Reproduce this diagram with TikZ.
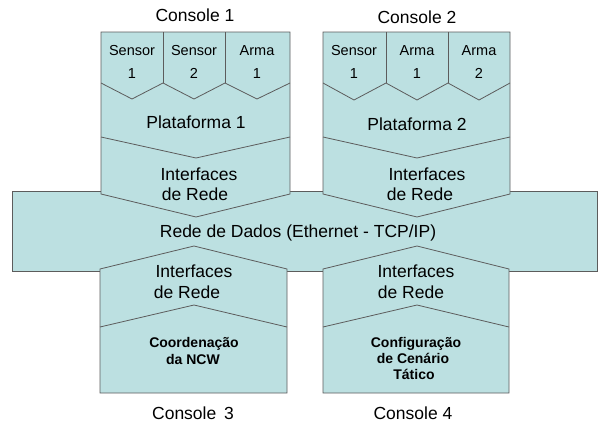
\documentclass[tikz,border=0pt]{standalone}
\usepackage{fontspec}
\setmainfont{Liberation Sans}
\begin{document}
\begin{tikzpicture}[x=1pt,y=-1pt,
  blk/.style={draw=linegray,fill=boxfill,line width=0.8pt,line join=miter},
  sep/.style={draw=linegray,line width=0.8pt},
  big/.style={font=\fontsize{17.5}{20}\selectfont,inner sep=0pt,anchor=base},
  small/.style={font=\fontsize{14.5}{17}\selectfont,inner sep=0pt,anchor=base},
  bold/.style={font=\fontsize{14}{16}\selectfont\bfseries,inner sep=0pt,anchor=base}]
\definecolor{boxfill}{HTML}{BCE0E1}
\definecolor{linegray}{HTML}{5C5C5C}
\useasboundingbox (0,0) rectangle (598,426);

% network backbone
\draw[blk] (12,191) rectangle (597,271);

% upper console 1
\draw[blk] (101,32) -- (290,32) -- (290,194) -- (196,217) -- (101,194) -- cycle;
\draw[sep] (163,32) -- (163,83) (225,32) -- (225,83);
\draw[sep] (101,83) -- (132,99) -- (163,83) -- (194,99) -- (225,83) -- (257,99) -- (290,83);
\draw[sep] (101,137) -- (196,158) -- (290,137);

% upper console 2
\draw[blk] (323,32) -- (510,32) -- (510,194) -- (417,217) -- (323,194) -- cycle;
\draw[sep] (386,32) -- (386,83) (448,32) -- (448,83);
\draw[sep] (323,83) -- (354,100) -- (386,83) -- (417,100) -- (448,83) -- (479,100) -- (510,83);
\draw[sep] (323,137) -- (417,158) -- (510,137);

% lower console 3
\draw[blk] (100,269) -- (194,246) -- (287,269) -- (287,393) -- (100,393) -- cycle;
\draw[sep] (100,327) -- (194,305) -- (287,327);

% lower console 4
\draw[blk] (323,269) -- (417,246) -- (509,269) -- (509,393) -- (323,393) -- cycle;
\draw[sep] (323,327) -- (417,305) -- (509,327);

% titles
\node[big] (c1) at (195,21) {Console 1};
\node[big] (c2) at (417,23) {Console 2};
\node[big] (c3) at (193,419) {Console\,\ 3};
\node[big] (c4) at (413,419) {Console\ 4};

% console 1 labels
\node[small] (s1a) at (132,55) {Sensor};
\node[small] (s1b) at (132,78) {1};
\node[small] (s2a) at (194,55) {Sensor};
\node[small] (s2b) at (194,78) {2};
\node[small] (a1a) at (257,55) {Arma};
\node[small] (a1b) at (257,78) {1};
\node[big] (p1) at (196,128) {Plataforma 1};
\node[big] (i1a) at (199,180) {Interfaces};
\node[big] (i1b) at (195,200) {de Rede};

% console 2 labels
\node[small] (t1a) at (354,55) {Sensor};
\node[small] (t1b) at (354,78) {1};
\node[small] (b1a) at (417,55) {Arma};
\node[small] (b1b) at (417,78) {1};
\node[small] (b2a) at (479,55) {Arma};
\node[small] (b2b) at (479,78) {2};
\node[big] (p2) at (417,130) {Plataforma 2};
\node[big] (i2a) at (427,180) {Interfaces};
\node[big] (i2b) at (420,200) {de Rede};

% backbone label
\node[big] (net) at (298,237) {Rede de Dados (Ethernet - TCP/IP)};

% console 3 labels
\node[big] (i3a) at (194,277) {Interfaces};
\node[big] (i3b) at (187,298) {de Rede};
\node[bold] (n3a) at (194,347) {Coordenação};
\node[bold] (n3b) at (193,364) {da NCW};

% console 4 labels
\node[big] (i4a) at (416,277) {Interfaces};
\node[big] (i4b) at (411,298) {de Rede};
\node[bold] (n4a) at (416,347) {Configuração};
\node[bold] (n4b) at (413,363) {de Cenário};
\node[bold] (n4c) at (414,379) {Tático};
\end{tikzpicture}
\end{document}
